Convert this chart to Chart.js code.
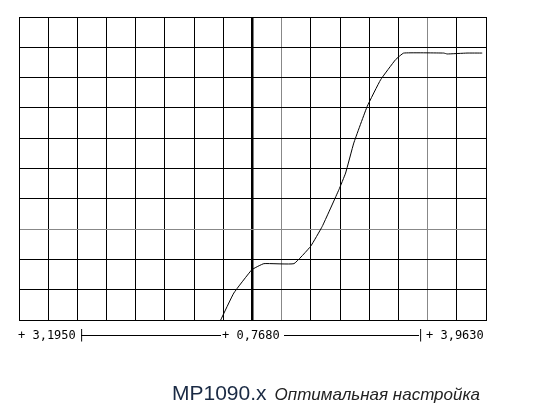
<!DOCTYPE html>
<html lang="ru">
<head>
<meta charset="UTF-8">
<title>MP1090.x</title>
<style>
  body { margin: 0; background: #fff; width: 542px; height: 415px; overflow: hidden; position: relative; }
  #chart { position: absolute; left: 0; top: 0; }
  .lbl { position: absolute; top: 328px; font: 12px "DejaVu Sans Mono", monospace; color: #000; white-space: pre; }
  .rule { position: absolute; top: 335px; height: 1px; background: #000; }
  .cap { position: absolute; top: 381px; left: 172px; white-space: nowrap; }
</style>
</head>
<body>
<canvas id="chart" width="542" height="415"></canvas>

<div class="lbl" style="left:18px">+ 3,1950</div>
<div class="lbl" style="left:78px">|</div>
<div class="rule" style="left:81px;width:140px"></div>
<div class="lbl" style="left:222px">+ 0,7680</div>
<div class="rule" style="left:284px;width:135px"></div>
<div class="lbl" style="left:417px">|</div>
<div class="lbl" style="left:426px">+ 3,9630</div>

<div class="cap">
  <span style="font:21px 'Liberation Sans', Arial, sans-serif; color:#1a2a44">MP1090.x</span>
  <span style="font:italic 17px 'Liberation Sans', Arial, sans-serif; color:#222; margin-left:4px">Оптимальная настройка</span>
</div>

<script src="https://cdn.jsdelivr.net/npm/chart.js"></script>
<script>
  // trace, in grid divisions (16 across, 10 up)
  const xs = [6.91, 7.36, 7.98, 8.39, 9.42, 9.99, 10.39, 10.96, 11.19, 11.47, 11.93, 12.39, 12.9, 13.18, 14.55, 14.67, 15.35, 15.87];
  const ys = [0, 0.89, 1.66, 1.86, 1.86, 2.43, 3.09, 4.3, 4.85, 5.84, 7.05, 7.93, 8.59, 8.81, 8.81, 8.78, 8.81, 8.81];
  const grayX = [9, 14];
  const grayY = [3];
  const centerX = 8;

  const points = xs.map((x, i) => ({ x: x, y: ys[i] }));

  function gridColor(list) {
    return ctx => list.includes(ctx.tick.value) ? '#888' : '#000';
  }

  new Chart(document.getElementById('chart'), {
    type: 'scatter',
    data: {
      datasets: [{
        data: points,
        showLine: true,
        borderColor: '#000',
        borderWidth: 1,
        pointRadius: 0,
        tension: 0.1
      }]
    },
    options: {
      responsive: false,
      animation: false,
      layout: { padding: { left: 19, top: 17, right: 56, bottom: 95 } },
      plugins: { legend: { display: false }, tooltip: { enabled: false } },
      scales: {
        x: {
          type: 'linear', min: 0, max: 16,
          ticks: { display: false, stepSize: 1 },
          grid: {
            drawTicks: false,
            color: gridColor(grayX),
            lineWidth: ctx => ctx.tick.value === centerX ? 2.5 : 1
          },
          border: { color: '#000', width: 1 }
        },
        y: {
          type: 'linear', min: 0, max: 10,
          ticks: { display: false, stepSize: 1 },
          grid: { drawTicks: false, color: gridColor(grayY) },
          border: { color: '#000', width: 1 }
        }
      }
    }
  });
</script>
</body>
</html>
